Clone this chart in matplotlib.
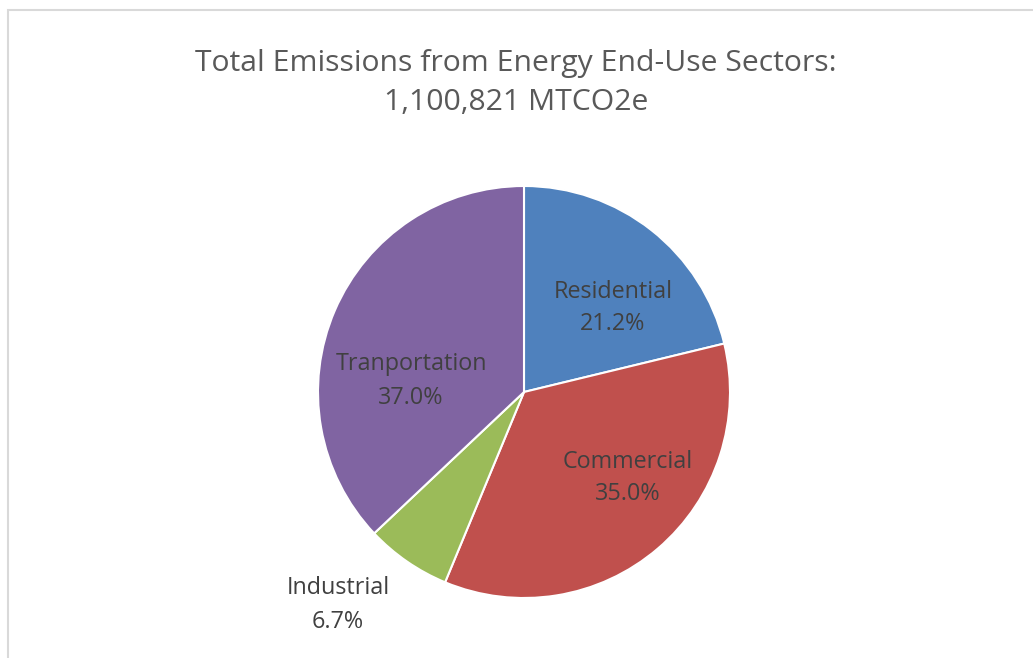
import matplotlib
matplotlib.use('Agg')
import matplotlib.pyplot as plt
from matplotlib.patches import Rectangle

sectors = ['Residential', 'Commercial', 'Industrial', 'Tranportation']
shares = [21.2, 35.0, 6.7, 37.0]
colors = ['#4F81BD', '#C0504D', '#9BBB59', '#8064A2']
title = 'Total Emissions from Energy End-Use Sectors:\n1,100,821 MTCO2e'

# label positions as offsets from the pie centre (pixels, y up)
label_offsets = [(89, 84), (104, -86), (-186, -213), (-113, 11)]

plt.rcParams['font.family'] = ['Open Sans', 'DejaVu Sans']

W, H = 1033, 658
fig = plt.figure(figsize=(W / 100, H / 100), dpi=100)
ax = fig.add_axes([0, 0, 1, 1])

# chart-area border (cropped on the right and bottom)
ax.add_patch(Rectangle((8, -20), W + 20, H - 10 + 20, fill=False, edgecolor='#D9D9D9', linewidth=1.5))

cx, cy, r = 524, H - 392, 206
ax.pie(shares, colors=colors, startangle=90, counterclock=False, center=(cx, cy), radius=r,
       wedgeprops=dict(edgecolor='white', linewidth=1.5), frame=True)
ax.set_xlim(0, W)
ax.set_ylim(0, H)
ax.axis('off')

for name, val, (dx, dy) in zip(sectors, shares, label_offsets):
    ax.text(cx + dx, cy + dy, '{}\n{:.1f}%'.format(name, val), ha='center', va='center',
            fontsize=16.8, color='#404040', linespacing=1.5)

fig.text(516 / W, 1 - 83 / H, title, ha='center', va='center', fontsize=21.7, color='#595959',
         linespacing=1.45)

fig.savefig('out.png', dpi=100)
